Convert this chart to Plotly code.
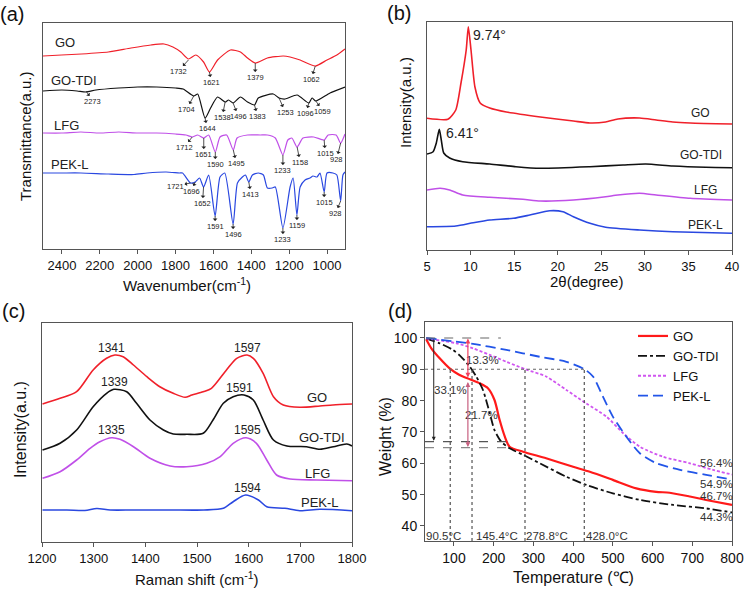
import plotly.graph_objects as go

FONT = "Arial, Liberation Sans, Helvetica, sans-serif"
RED = "#f0202a"
BLACK = "#111111"
VIOLET = "#c050e8"
BLUE = "#2a48e0"
AX = "#555555"

# ---------------- (a) FTIR (wavenumber, transmittance a.u.) ----------------
ftir_go_wn = [2500, 2402, 2297, 2155, 2035, 1930, 1861, 1814, 1772, 1732, 1693, 1652, 1621, 1578,
              1510, 1457, 1420, 1379, 1315, 1231, 1195, 1142, 1062, 1000, 948, 905]
ftir_go_t = [193, 194, 195, 197, 201, 204, 205, 202, 197, 190, 194, 187, 177, 189,
             199, 197, 191, 186, 191, 193, 192, 189, 183, 189, 194, 200]

ftir_tdi_wn = [2500, 2400, 2320, 2273, 2220, 2100, 2000, 1900, 1800, 1760, 1704, 1683, 1644, 1615,
               1578, 1538, 1520, 1496, 1457, 1420, 1383, 1363, 1284, 1253, 1221, 1158, 1096, 1079,
               1059, 984, 905]
ftir_tdi_t = [158, 159, 158, 157, 159, 161, 162, 162, 161, 160, 153, 155, 131, 141,
              152, 147, 149, 146, 152, 147, 144, 151, 155, 151, 150, 154, 146, 151,
              148, 156, 162]

ftir_lfg_wn = [2500, 2400, 2300, 2200, 2100, 2000, 1900, 1800, 1745, 1712, 1683, 1651, 1625, 1590,
               1565, 1530, 1495, 1475, 1420, 1352, 1315, 1273, 1233, 1207, 1186, 1158, 1127, 1070,
               1015, 994, 952, 928, 905]
ftir_lfg_t = [116, 116, 117, 116, 117, 116, 116, 115, 114, 112, 114, 111, 114, 97,
              112, 114, 99, 111, 114, 114, 114, 111, 94, 109, 111, 102, 111, 112,
              109, 114, 114, 106, 115]

ftir_pek_wn = [2500, 2400, 2300, 2155, 2019, 1950, 1850, 1780, 1763, 1721, 1696, 1673, 1652, 1625,
               1591, 1565, 1540, 1496, 1473, 1447, 1431, 1413, 1394, 1363, 1336, 1315, 1289, 1273,
               1233, 1195, 1179, 1159, 1142, 1116, 1090, 1074, 1053, 1037, 1015, 1000, 969, 948,
               928, 916, 905]
ftir_pek_t = [76, 76, 76, 75, 74.5, 76, 77, 76, 76, 66, 67, 71, 62, 74,
              33, 72, 76, 25, 66, 72, 74, 67, 74, 76, 74, 61, 61, 62,
              21, 62, 71, 34, 62, 69, 71, 73, 72, 76, 57, 76, 76, 74,
              48, 74, 77]

ftir_names = ["GO", "GO-TDI", "LFG", "PEK-L"]
ftir_name_wn = [2386, 2334, 2376, 2360]
ftir_name_t = [206, 169, 124, 85]

# peak labels: (label wavenumber, curve value at the dip, label offset in px)
ftir_peak_wn = [1732, 1621, 1379, 1062,
                2273, 1704, 1644, 1538, 1496, 1383, 1253, 1096, 1059,
                1712, 1651, 1590, 1495, 1233, 1158, 1015, 928,
                1721, 1696, 1652, 1591, 1496, 1413, 1233, 1159, 1015, 928]
ftir_peak_t = [189, 177, 186, 183,
               158, 153, 131, 147, 146, 144, 151, 146, 148,
               112, 111, 97, 99, 94, 102, 109, 106,
               66, 67, 62, 33, 25, 67, 21, 34, 57, 48]
ftir_peak_ax = [-10, 2, 0, -4,
                7, -7, 2, -3, 5, 3, 6, -3, 7,
                -8, 0, 0, 3, 0, 3, 1, -4,
                -15, -4, -1, 0, 0, 2, 0, 0, 0, -5]
ftir_peak_ay = [11, 10, 14, 13,
                10, 13, 10, 15, 13, 11, 14, 10, 10,
                10, 16, 12, 13, 15, 15, 13, 16,
                3, 9, 16, 10, 10, 12, 11, 10, 10, 12]

# ---------------- (b) XRD ----------------
xrd_go_x = [5.0, 7.4, 8.3, 8.9, 9.5, 9.74, 10.05, 10.5, 11.1, 12.2, 14.1, 18.0, 21.8, 23.7, 25.5,
            26.9, 29.4, 31.3, 33.2, 35.2, 40.0]
xrd_go_y = [131.7, 130.7, 140, 167, 200, 223.3, 200, 163, 147, 142, 138, 133, 129, 127, 128,
            131, 132, 130, 128, 127, 126]
xrd_tdi_x = [5.0, 5.7, 6.07, 6.41, 6.64, 6.92, 7.6, 9.1, 12.2, 15.2, 18.0, 23.7, 27.5, 30.1, 33.2,
             37.0, 40.0]
xrd_tdi_y = [96, 98.3, 107, 120.7, 110, 97, 92, 88.3, 86, 83.3, 81.7, 83.3, 85, 86, 84, 82.7, 82.3]
xrd_lfg_x = [5, 6.5, 7.6, 9.1, 12.2, 16, 18, 21.8, 25.5, 26.9, 29.4, 31.3, 35.2, 40]
xrd_lfg_y = [60, 61.7, 60, 55, 52.7, 50.7, 49, 50, 53.3, 55, 56.7, 55, 51.7, 50]
xrd_pek_x = [5, 8.3, 10.3, 12.2, 14.9, 16.8, 19.1, 20.6, 21.8, 23.7, 25.5, 29.4, 33.2, 40]
xrd_pek_y = [23.3, 24, 27.3, 30, 31.7, 35, 39.3, 38.3, 33.3, 26.7, 22.7, 20, 18.3, 16.7]
xrd_name_x = [36.4, 36.4, 37.0, 37.0]
xrd_name_y = [137, 95, 60, 25]

# ---------------- (c) Raman ----------------
ram_go_x = [1201, 1235, 1267, 1299, 1325, 1341, 1357, 1377, 1403, 1428, 1454, 1477, 1490, 1512,
            1528, 1557, 1577, 1597, 1609, 1628, 1648, 1667, 1699, 1738, 1763, 1800]
ram_go_y = [138, 143.7, 150.3, 172, 183.7, 187, 185.3, 177, 165.3, 155.3, 148.7, 144.7, 147, 150.3,
            153.7, 172, 183.7, 187, 183.7, 168.7, 145.3, 137, 134.7, 136, 137, 138]
ram_tdi_x = [1201, 1235, 1267, 1299, 1325, 1339, 1364, 1383, 1409, 1435, 1454, 1480, 1512, 1531,
             1551, 1570, 1591, 1609, 1628, 1648, 1674, 1712, 1738, 1764, 1790, 1800]
ram_tdi_y = [92, 98.7, 112, 135.3, 148.7, 152.7, 150.3, 138.7, 122, 112, 108, 107.7, 108.7, 122,
             138.7, 145.3, 147, 142, 122, 102, 96, 95.3, 92.7, 95.3, 98, 96]
ram_lfg_x = [1201, 1235, 1267, 1293, 1312, 1335, 1351, 1377, 1409, 1448, 1480, 1519, 1545, 1570,
             1595, 1615, 1635, 1654, 1680, 1732, 1800]
ram_lfg_y = [63.7, 70.3, 82, 93.7, 100.3, 104.3, 102.7, 95.3, 83.7, 76, 75.3, 78.7, 85.3, 98.7,
             104.3, 98.7, 82, 67, 63, 62, 61.3]
ram_pek_x = [1201, 1248, 1283, 1306, 1332, 1377, 1448, 1513, 1551, 1570, 1594, 1619, 1635, 1670,
             1699, 1738, 1800]
ram_pek_y = [32, 32, 31.5, 33.5, 32, 32, 32, 32, 33.7, 40.3, 47, 42, 35.3, 33.7, 31.3, 32.7, 31.3]
ram_peak_text = ["1341", "1597", "1339", "1591", "1335", "1595", "1594"]
ram_peak_x = [1335, 1597, 1341, 1583, 1335, 1597, 1597]
ram_peak_y = [194, 194, 160, 154, 112, 112, 54]
ram_name_x = [1732, 1742, 1733, 1738]
ram_name_y = [145, 105, 69, 40]

# ---------------- (d) TGA ----------------
tga_go_t = [30, 43, 64, 89, 114, 140, 165, 186, 202, 215, 228, 240, 274, 332, 400, 442, 500, 559,
            609, 643, 694, 735, 800]
tga_go_w = [99.6, 96.7, 93.5, 90.3, 88.2, 86.8, 85.5, 83.9, 80.2, 73.8, 68.5, 65.3, 63.7, 61.6,
            58.9, 57.3, 54.7, 52.0, 50.9, 50.6, 49.4, 48.3, 46.7]
tga_tdi_t = [30, 64, 97, 118, 140, 156, 173, 190, 202, 219, 240, 274, 316, 383, 433, 500, 568,
             652, 735, 800]
tga_tdi_w = [99.9, 98.3, 96.2, 94.0, 90.8, 87.7, 83.4, 76.0, 70.6, 66.9, 64.8, 62.7, 60.0, 55.7,
             53.1, 50.4, 48.3, 46.7, 45.6, 44.3]
tga_lfg_t = [30, 106, 148, 190, 232, 280, 332, 383, 433, 484, 526, 568, 626, 694, 752, 800]
tga_lfg_w = [99.9, 98.3, 96.7, 94.6, 92.4, 90.0, 87.7, 83.4, 79.1, 74.9, 69.6, 65.3, 62.1, 60.0,
             57.9, 56.4]
tga_pek_t = [30, 148, 232, 316, 383, 429, 450, 475, 500, 534, 568, 610, 669, 735, 790]
tga_pek_w = [100, 98.1, 96.2, 94.0, 92.4, 90.0, 87.7, 81.3, 74.9, 68.5, 63.2, 60.0, 57.9, 56.3, 55.0]
tga_t10 = [90.5, 145.4, 278.8, 428.0]
tga_t10_text = ["90.5°C", "145.4°C", "278.8°C", "428.0°C"]
tga_t10_label_x = [74, 208, 334, 484]
tga_res_text = ["56.4%", "54.9%", "46.7%", "44.3%"]
tga_res_y = [60.0, 53.4, 49.7, 43.0]
tga_loss_text = ["13.3%", "21.7%", "33.1%"]
tga_loss_x = [173, 170, 91]
tga_loss_y = [93.0, 75.4, 83.4]

fig = go.Figure()


def line(x, y, color, xa, ya, width=1.3, dash="solid", name=None, legend=False, smooth=0.7):
    fig.add_trace(go.Scatter(x=x, y=y, mode="lines", name=name, showlegend=legend,
                             line=dict(color=color, width=width, dash=dash, shape="spline",
                                       smoothing=smooth),
                             xaxis=xa, yaxis=ya, hoverinfo="skip"))


cols = [RED, BLACK, VIOLET, BLUE]
# (a)
for (x, y), c in zip([(ftir_go_wn, ftir_go_t), (ftir_tdi_wn, ftir_tdi_t),
                      (ftir_lfg_wn, ftir_lfg_t), (ftir_pek_wn, ftir_pek_t)], cols):
    line(x, y, c, "x", "y", width=1.2, smooth=0.6)
# (b)
for (x, y), c in zip([(xrd_go_x, xrd_go_y), (xrd_tdi_x, xrd_tdi_y),
                      (xrd_lfg_x, xrd_lfg_y), (xrd_pek_x, xrd_pek_y)], cols):
    line(x, y, c, "x2", "y2", width=1.6, smooth=0.6)
# (c)
for (x, y), c in zip([(ram_go_x, ram_go_y), (ram_tdi_x, ram_tdi_y),
                      (ram_lfg_x, ram_lfg_y), (ram_pek_x, ram_pek_y)], cols):
    line(x, y, c, "x3", "y3", width=1.6, smooth=0.8)
# (d)
line(tga_go_t, tga_go_w, "#ff1a1a", "x4", "y4", width=2.2, name="GO", legend=True)
line(tga_tdi_t, tga_tdi_w, BLACK, "x4", "y4", width=1.8, dash="dashdot", name="GO-TDI", legend=True)
line(tga_lfg_t, tga_lfg_w, "#d055f0", "x4", "y4", width=1.8, dash="3px,2px", name="LFG", legend=True)
line(tga_pek_t, tga_pek_w, "#2255e8", "x4", "y4", width=1.8, dash="10px,5px", name="PEK-L", legend=True)

ann = []


def txt(x, y, s, xr, yr, size=12, color="#222", xanchor="center", **kw):
    ann.append(dict(x=x, y=y, text=s, xref=xr, yref=yr, showarrow=False, xanchor=xanchor,
                    yanchor="middle", font=dict(family=FONT, size=size, color=color), **kw))


# (a) labels
for n, x, y in zip(ftir_names, ftir_name_wn, ftir_name_t):
    txt(x, y, n, "x", "y", size=13)
for wn, t, ax, ay in zip(ftir_peak_wn, ftir_peak_t, ftir_peak_ax, ftir_peak_ay):
    ann.append(dict(x=wn, y=t, xref="x", yref="y", text=str(wn), showarrow=True, ax=ax, ay=ay,
                    arrowhead=2, arrowside="start", arrowsize=0.6, arrowwidth=0.8,
                    arrowcolor="#222", font=dict(family=FONT, size=7.5, color="#222"),
                    borderpad=0))
# (b) labels
for n, x, y in zip(ftir_names, xrd_name_x, xrd_name_y):
    txt(x, y, n, "x2", "y2", size=12)
txt(12.2, 215, "9.74°", "x2", "y2", size=14)
txt(9.13, 117, "6.41°", "x2", "y2", size=14)
# (c) labels
for s, x, y in zip(ram_peak_text, ram_peak_x, ram_peak_y):
    txt(x, y, s, "x3", "y3", size=12)
for n, x, y in zip(ftir_names, ram_name_x, ram_name_y):
    txt(x, y, n, "x3", "y3", size=13)
# (d) labels
for s, x in zip(tga_t10_text, tga_t10_label_x):
    txt(x, 36.9, s, "x4", "y4", size=11.5, color="#333")
for s, y in zip(tga_res_text, tga_res_y):
    txt(760, y, s, "x4", "y4", size=11.5, color="#333")
for s, x, y in zip(tga_loss_text, tga_loss_x, tga_loss_y):
    txt(x, y, s, "x4", "y4", size=11.5, color="#333")
ann.append(dict(x=49, y=67.2, ax=49, ay=100, xref="x4", yref="y4", axref="x4", ayref="y4",
                text="", showarrow=True, arrowhead=2, arrowsize=0.8, arrowwidth=1,
                arrowcolor="#222"))
ann.append(dict(x=135, y=99.8, ax=135, ay=86.9, xref="x4", yref="y4", axref="x4", ayref="y4",
                text="", showarrow=True, arrowhead=2, arrowside="end+start", arrowsize=0.8,
                arrowwidth=1.2, arrowcolor="#f04060"))
ann.append(dict(x=135, y=65.2, ax=135, ay=86.4, xref="x4", yref="y4", axref="x4", ayref="y4",
                text="", showarrow=True, arrowhead=2, arrowside="end+start", arrowsize=0.8,
                arrowwidth=1.2, arrowcolor="#c86080"))

# panel letters and axis titles (paper coords)
for s, x, y in [("(a)", 12, 14), ("(b)", 399, 13), ("(c)", 13, 311), ("(d)", 400, 311)]:
    txt(x / 746, 1 - y / 594, s, "paper", "paper", size=20, color="#111")
for s, x, y, sz in [("Wavenumber(cm<sup>-1</sup>)", 187, 284, 15),
                    ("2θ(degree)", 586, 281, 15),
                    ("Raman shift (cm<sup>-1</sup>)", 197, 578, 15),
                    ("Temperature (℃)", 573, 577, 16)]:
    txt(x / 746, 1 - y / 594, s, "paper", "paper", size=sz, color="#111")
for s, x, y, sz in [("Transmittance(a.u.)", 25, 136, 15),
                    ("Intensity(a.u.)", 405, 103, 15),
                    ("Intensity(a.u.)", 20, 430, 16),
                    ("Weight (%)", 385, 437, 16)]:
    txt(x / 746, 1 - y / 594, s, "paper", "paper", size=sz, color="#111", textangle=-90)

shapes = []
gl = dict(color="#666", width=1.1)
shapes.append(dict(type="line", xref="x4", yref="y4", x0=30, x1=218, y0=100, y1=100,
                   line=dict(gl, dash="dash")))
shapes.append(dict(type="line", xref="x4", yref="y4", x0=27, x1=428, y0=90, y1=90,
                   line=dict(gl, dash="dot")))
for t in tga_t10:
    shapes.append(dict(type="line", xref="x4", yref="y4", x0=t, x1=t, y0=35.2, y1=90,
                       line=dict(color="#444", width=1.1, dash="dot")))
shapes.append(dict(type="line", xref="x4", yref="y4", x0=27, x1=240, y0=66.9, y1=66.9,
                   line=dict(color="#555", width=1.2, dash="dash")))
shapes.append(dict(type="line", xref="x4", yref="y4", x0=27, x1=240, y0=65.0, y1=65.0,
                   line=dict(color="#888", width=1.2, dash="dash")))

base = dict(showline=True, mirror=True, linecolor=AX, linewidth=1, ticks="outside", ticklen=4,
            tickcolor=AX, showgrid=False, zeroline=False, automargin=False,
            ticklabeloverflow="allow",
            tickfont=dict(family=FONT, size=13, color="#111"))
noy = dict(base, ticks="", showticklabels=False)

fig.update_layout(
    width=746, height=594, margin=dict(l=0, r=0, t=0, b=0),
    paper_bgcolor="white", plot_bgcolor="white",
    font=dict(family=FONT, color="#111"),
    xaxis=dict(base, domain=[43 / 746, 345 / 746], range=[2500, 905], anchor="y",
               tickvals=[2400, 2200, 2000, 1800, 1600, 1400, 1200, 1000]),
    yaxis=dict(noy, domain=[1 - 249 / 594, 1 - 23 / 594], range=[0, 226], anchor="x"),
    xaxis2=dict(base, domain=[427 / 746, 732 / 746], range=[5, 40], anchor="y2",
                tickvals=[5, 10, 15, 20, 25, 30, 35, 40]),
    yaxis2=dict(noy, domain=[1 - 250 / 594, 1 - 22 / 594], range=[0, 228], anchor="x2"),
    xaxis3=dict(base, domain=[42 / 746, 352 / 746], range=[1200, 1800], anchor="y3",
                tickvals=[1200, 1300, 1400, 1500, 1600, 1700, 1800]),
    yaxis3=dict(noy, domain=[1 - 542 / 594, 1 - 323 / 594], range=[0, 219], anchor="x3"),
    xaxis4=dict(base, domain=[425 / 746, 732 / 746], range=[27, 800], anchor="y4",
                tickvals=[100, 200, 300, 400, 500, 600, 700, 800],
                tickfont=dict(family=FONT, size=14, color="#111")),
    yaxis4=dict(base, domain=[1 - 541 / 594, 1 - 322 / 594], range=[35.2, 105.1], anchor="x4",
                tickvals=[40, 50, 60, 70, 80, 90, 100],
                tickfont=dict(family=FONT, size=14, color="#111")),
    legend=dict(x=633 / 746, y=1 - 321 / 594, xanchor="left", yanchor="top",
                bgcolor="rgba(0,0,0,0)", font=dict(family=FONT, size=13, color="#111"),
                tracegroupgap=0, itemwidth=30),
    annotations=ann, shapes=shapes, showlegend=True,
)

fig.write_html("out.html", config={"displayModeBar": False},
               post_script="document.body.style.margin='0';document.body.style.padding='0';")
